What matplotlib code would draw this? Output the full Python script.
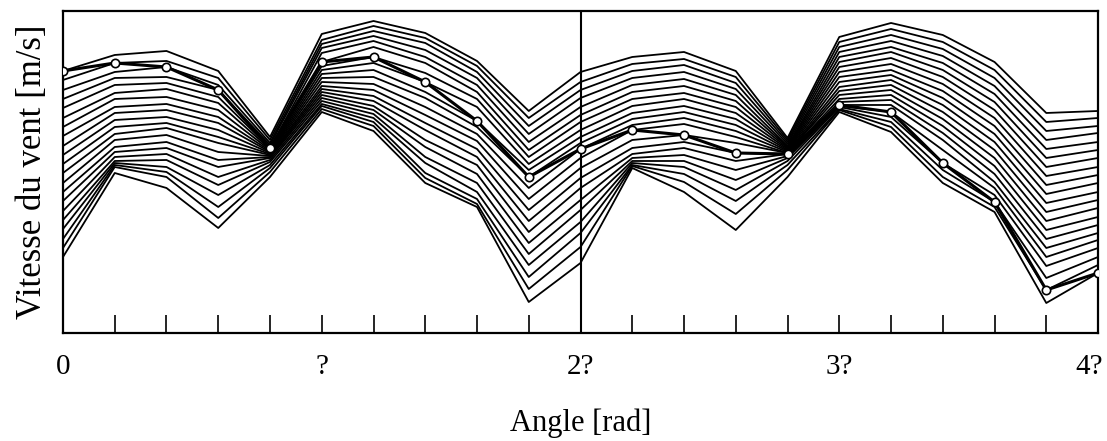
import numpy as np
import matplotlib
matplotlib.use("Agg")
import matplotlib.pyplot as plt
from matplotlib.transforms import ScaledTranslation

plt.rcParams['font.family'] = ['Liberation Serif', 'DejaVu Serif']

# Angles: 21 points, pas de pi/5 sur [0, 4pi]
angles = np.arange(21) * np.pi / 5

# Vitesse du vent lue pour chaque angle (ligne = un angle, colonne = une courbe)
v_par_angle = [
    [26.2, 25.3, 24.3, 23.4, 22.5, 21.5, 20.6, 19.7, 18.7, 17.8, 16.9, 16.0, 15.0, 14.1, 13.2, 12.2, 11.3, 10.4, 9.4, 8.5, 7.6],
    [27.8, 27.0, 26.1, 25.5, 24.8, 24.0, 23.4, 22.6, 22.0, 21.3, 20.6, 19.9, 19.3, 18.6, 18.1, 17.6, 17.2, 17.0, 16.8, 16.6, 16.0],
    [28.2, 27.2, 26.6, 25.6, 25.0, 24.4, 23.6, 22.9, 22.3, 21.6, 21.0, 20.5, 19.8, 19.1, 18.5, 17.9, 17.3, 16.6, 16.1, 15.6, 14.5],
    [26.2, 25.5, 24.8, 24.3, 23.6, 23.0, 22.3, 21.6, 21.0, 20.3, 19.6, 19.0, 18.1, 17.3, 16.6, 15.6, 14.8, 13.8, 12.6, 11.5, 10.5],
    [19.6, 19.3, 19.0, 18.8, 18.5, 18.4, 18.3, 18.2, 18.1, 18.0, 17.9, 17.8, 17.7, 17.6, 17.5, 17.3, 17.1, 16.8, 16.5, 16.1, 15.6],
    [29.9, 29.3, 28.9, 28.5, 28.0, 27.1, 26.7, 26.3, 25.9, 25.5, 25.1, 24.7, 24.4, 24.1, 23.8, 23.5, 23.2, 22.9, 22.7, 22.4, 22.1],
    [31.2, 30.7, 30.2, 29.7, 29.2, 28.6, 27.6, 27.0, 26.3, 25.6, 24.9, 24.3, 23.7, 23.2, 22.7, 22.3, 21.9, 21.5, 21.1, 20.7, 20.2],
    [30.0, 29.5, 29.0, 28.3, 27.6, 27.0, 26.0, 25.1, 24.1, 23.5, 22.6, 21.8, 21.0, 20.3, 19.3, 18.6, 17.6, 17.0, 16.0, 15.5, 15.0],
    [27.2, 26.7, 26.1, 25.5, 24.8, 24.1, 23.4, 22.6, 21.2, 20.6, 19.9, 19.2, 18.4, 17.6, 16.8, 15.9, 15.0, 14.1, 13.4, 12.9, 12.6],
    [22.2, 21.5, 20.7, 19.9, 19.1, 18.3, 17.6, 16.9, 16.3, 15.6, 14.5, 13.4, 12.3, 11.2, 10.1, 9.0, 7.9, 6.8, 5.6, 4.4, 3.1],
    [26.1, 25.1, 24.3, 23.5, 22.6, 21.8, 21.1, 20.3, 19.6, 19.0, 18.4, 17.5, 16.5, 15.5, 14.5, 13.3, 12.3, 11.1, 10.0, 8.6, 7.0],
    [27.6, 26.9, 26.2, 25.5, 24.8, 24.1, 23.4, 22.7, 22.0, 21.4, 20.8, 20.3, 19.3, 18.5, 17.9, 17.5, 17.2, 17.0, 16.8, 16.7, 16.5],
    [28.1, 27.4, 26.8, 26.1, 25.4, 24.7, 24.0, 23.4, 22.7, 22.1, 21.5, 20.9, 19.8, 19.1, 18.5, 17.8, 17.2, 16.6, 15.9, 15.1, 14.1],
    [26.2, 25.6, 25.0, 24.4, 23.8, 23.2, 22.6, 22.0, 21.4, 20.8, 20.2, 19.6, 19.0, 18.0, 17.2, 16.3, 15.3, 14.3, 13.2, 11.9, 10.3],
    [19.5, 19.3, 19.1, 18.9, 18.7, 18.6, 18.5, 18.4, 18.3, 18.2, 18.1, 18.0, 18.0, 17.9, 17.9, 17.7, 17.5, 17.2, 16.8, 16.3, 15.6],
    [29.6, 29.1, 28.6, 28.1, 27.6, 27.1, 26.6, 26.1, 25.6, 25.1, 24.6, 24.2, 23.8, 23.4, 23.1, 22.8, 22.7, 22.6, 22.4, 22.3, 22.1],
    [31.0, 30.4, 29.8, 29.2, 28.6, 28.1, 27.5, 26.9, 26.3, 25.8, 25.3, 24.8, 24.3, 23.8, 23.3, 22.8, 22.1, 21.6, 21.1, 20.6, 20.1],
    [29.8, 29.1, 28.4, 27.7, 27.0, 26.3, 25.6, 24.9, 24.2, 23.5, 22.8, 22.1, 21.4, 20.7, 20.0, 19.3, 18.3, 17.0, 16.3, 15.6, 15.0],
    [27.1, 26.3, 25.5, 24.7, 23.9, 23.1, 22.3, 21.5, 20.7, 19.9, 19.1, 18.3, 17.5, 16.7, 15.9, 15.1, 14.5, 13.8, 13.1, 12.6, 12.1],
    [22.0, 21.1, 20.2, 19.3, 18.4, 17.5, 16.6, 15.7, 14.8, 13.9, 13.0, 12.1, 11.2, 10.3, 9.4, 8.5, 7.6, 6.7, 5.5, 4.3, 3.0],
    [22.2, 21.5, 20.7, 20.0, 19.1, 18.3, 17.5, 16.6, 15.8, 15.0, 14.1, 13.3, 12.5, 11.6, 10.8, 10.0, 9.3, 8.5, 7.6, 6.8, 6.0],
]

tick_labels = ['0', '?', '2?', '3?', '4?']

courbes = np.array(v_par_angle).T
# la courbe en gras suit la diagonale (courbe i a l'angle i)
diag = [v_par_angle[i][i] for i in range(len(angles))]

fig = plt.figure(figsize=(11.07, 4.41), dpi=100)
ax = fig.add_axes([0.0569, 0.2449, 0.935, 0.7302])

for c in courbes:
    ax.plot(angles, c, color='black', linewidth=1.3)

ax.plot(angles, diag, color='black', linewidth=2.2, marker='o',
        markersize=6, markerfacecolor='white', markeredgecolor='black',
        markeredgewidth=1.2, zorder=5)

ax.axvline(2 * np.pi, color='black', linewidth=1.5)

ax.set_xlim(0, 4 * np.pi)
ax.set_ylim(0, 32.2)

ax.set_xticks(angles, minor=True)
ax.set_xticks(np.arange(5) * np.pi)
ax.set_xticklabels(tick_labels, fontsize=21)
ax.tick_params(axis='x', which='both', direction='in', length=13, width=1.2, pad=15)
ax.set_yticks([])

# le dernier label est un peu decale pour rester dans l'image
last = ax.get_xticklabels()[-1]
last.set_transform(last.get_transform() + ScaledTranslation(-0.09, 0, fig.dpi_scale_trans))

for s in ax.spines.values():
    s.set_linewidth(1.6)

ax.set_xlabel('Angle [rad]', fontsize=22, labelpad=21)
ax.set_ylabel('Vitesse du vent [m/s]', fontsize=25, labelpad=10)

plt.savefig('out.png', dpi=100)
